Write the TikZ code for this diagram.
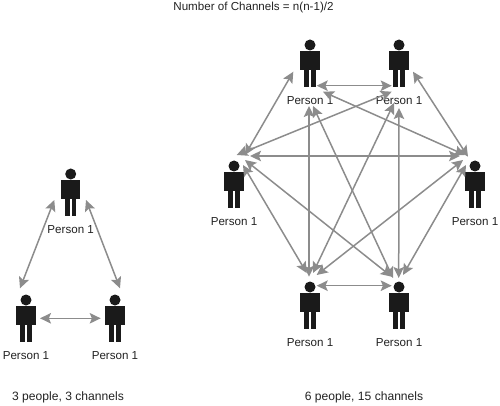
\documentclass[tikz,border=0pt]{standalone}
\usepackage{fontspec}
\setmainfont{Liberation Sans}
\usetikzlibrary{arrows.meta,calc}
\definecolor{ink}{HTML}{1A1A1A}
\definecolor{wire}{HTML}{8C8C8C}
\definecolor{txt}{HTML}{222222}
\tikzset{
  x=1pt,y=-1pt,
  person/.style={rectangle,draw=none,inner sep=0pt,minimum width=20pt,minimum height=48pt,
    label={[label distance=9.5pt,inner sep=0pt,text=txt,font=\fontsize{11.6}{12}\selectfont]-90:Person 1},
    path picture={
      \fill[ink] (path picture bounding box.center) ++(0,-18) circle (5.5pt);
      \fill[ink] (path picture bounding box.center) ++(-9.6,-12) rectangle ++(19.2,19.4);
      \fill[ink] (path picture bounding box.center) ++(-5.6,7) rectangle ++(4.7,17);
      \fill[ink] (path picture bounding box.center) ++(1,7) rectangle ++(4.7,17);
    }},
  channel/.style={wire,line width=1.5pt,{Stealth[length=11pt,width=10.5pt,inset=2.2pt]}-{Stealth[length=11pt,width=10.5pt,inset=2.2pt]}},
  note/.style={text=txt,inner sep=0pt,font=\fontsize{11.6}{12}\selectfont},
  caption/.style={text=txt,inner sep=0pt,font=\fontsize{12.1}{13}\selectfont}
}
\newcommand{\chan}[6]{\draw[channel] ($(#1)+(#2,#3)$) -- ($(#4)+(#5,#6)$);}
\begin{document}
\begin{tikzpicture}
\useasboundingbox (0,0) rectangle (500,406);
\node[note] (title) at (253.5,8) {Number of Channels = n(n-1)/2};
\node[caption] (capa) at (68,397) {3 people, 3 channels};
\node[caption] (capb) at (364,397) {6 people, 15 channels};
% triangle
\node[person] (A) at (70.7,192) {};
\node[person] (B) at (26,318) {};
\node[person] (C) at (115,318) {};
% hexagon
\node[person] (TL) at (310,63) {};
\node[person] (TR) at (399,63) {};
\node[person] (L) at (234,184) {};
\node[person] (R) at (475,184) {};
\node[person] (BL) at (310,305) {};
\node[person] (BR) at (399,305) {};
\chan{A}{-16.4}{8}{B}{-6}{-29.7}
\chan{A}{15.3}{8}{C}{5}{-29.7}
\chan{B}{14}{0.3}{C}{-14.3}{0.3}
\chan{TL}{6.7}{22.7}{TR}{-7.3}{22.7}
\chan{TL}{-16.7}{8.7}{L}{11}{-29}
\chan{TL}{13}{28.7}{R}{-10}{-29}
\chan{TL}{-1}{43}{BL}{-1}{-28.3}
\chan{TL}{3}{43}{BR}{-6}{-27}
\chan{TR}{14}{8.7}{R}{-7}{-27.3}
\chan{TR}{-7.3}{28.7}{L}{2.7}{-29}
\chan{TR}{-5}{40}{BL}{3}{-32}
\chan{TR}{0}{45}{BR}{-0.3}{-27}
\chan{L}{16}{-28}{R}{-15}{-28}
\chan{L}{9}{-19}{BL}{-3.3}{-32}
\chan{L}{11}{-24}{BR}{-7.3}{-28.3}
\chan{R}{-12}{-24}{BL}{6.7}{-30}
\chan{R}{-9}{-19}{BR}{4}{-30}
\chan{BL}{6.7}{-19.3}{BR}{-7.3}{-19.3}
\end{tikzpicture}
\end{document}
